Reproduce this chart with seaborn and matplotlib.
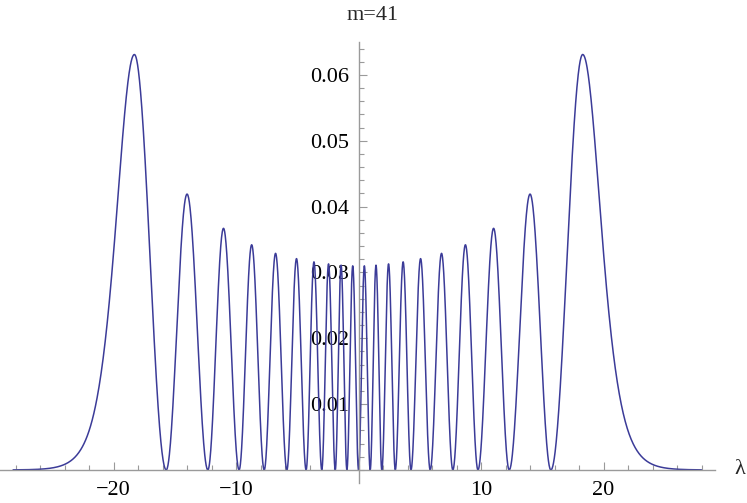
import numpy as np
import pandas as pd
import matplotlib
matplotlib.use("Agg")
import matplotlib.pyplot as plt
import seaborn as sns
from matplotlib.ticker import MultipleLocator, FixedLocator

# zeros of the density (lambda units)
zeros = [-15.7, -12.3, -9.75, -7.7, -5.85, -4.28, -3.0, -1.9, -0.95, 0.0,
         0.95, 1.9, 3.0, 4.28, 5.85, 7.7, 9.75, 12.3, 15.7]
# peak height of each lobe between two neighbouring zeros
inner_heights = [0.0419, 0.0367, 0.0342, 0.0329, 0.0321, 0.0316, 0.0313, 0.0311, 0.0310,
                 0.0310, 0.0311, 0.0313, 0.0316, 0.0321, 0.0329, 0.0342, 0.0367, 0.0419]
# the two big outer lobes
outer_peaks = [-18.3, 18.3]
outer_heights = [0.0631, 0.0631]
outer_tail = 2.0
x_range = (-28.2, 28.0)

# build the curve lobe by lobe
parts = []
for a, b, h in zip(zeros[:-1], zeros[1:], inner_heights):
    x = np.linspace(a, b, 120)
    parts.append(pd.DataFrame({"lam": x, "rho": h * np.sin(np.pi * (x - a) / (b - a)) ** 2}))

for p, h, z in zip(outer_peaks, outer_heights, [zeros[0], zeros[-1]]):
    s = np.sign(p)
    xo = np.linspace(p, x_range[1] if s > 0 else x_range[0], 300)
    yo = h / np.cosh((xo - p) / outer_tail) ** 2
    xi = np.linspace(z, p, 150)
    yi = h * np.sin(0.5 * np.pi * (xi - z) / (p - z)) ** 2
    xs = np.concatenate([xi, xo])
    ys = np.concatenate([yi, yo])
    order = np.argsort(xs)
    parts.append(pd.DataFrame({"lam": xs[order], "rho": ys[order]}))

df = pd.concat(sorted(parts, key=lambda d: d["lam"].iloc[0]), ignore_index=True)

sns.set_style("white")
plt.rcParams["font.family"] = ["Liberation Serif", "DejaVu Serif"]

fig = plt.figure(figsize=(7.47, 5.03), dpi=100)
ax = fig.add_axes([0.0, 0.0398, 715 / 747, 0.9165 - 0.0398])

sns.lineplot(data=df, x="lam", y="rho", ax=ax, sort=False, estimator=None,
             color="#3b3b98", linewidth=1.1)

ax.set_xlim(-29.27, 29.1)
ax.set_ylim(-0.00198, 0.0650)

axis_col = "#9a9a9a"
for side in ["top", "right"]:
    ax.spines[side].set_visible(False)
ax.spines["left"].set_position(("data", 0))
ax.spines["bottom"].set_position(("data", 0))
for side in ["left", "bottom"]:
    ax.spines[side].set_color(axis_col)
    ax.spines[side].set_linewidth(1.0)

ax.xaxis.set_major_locator(FixedLocator([-20, -10, 10, 20]))
ax.xaxis.set_minor_locator(MultipleLocator(2))
ax.yaxis.set_major_locator(FixedLocator([0.01, 0.02, 0.03, 0.04, 0.05, 0.06]))
ax.yaxis.set_minor_locator(MultipleLocator(0.002))
ax.set_xticklabels(["\u221220", "\u221210", "10", "20"])
ax.set_yticklabels(["0.01", "0.02", "0.03", "0.04", "0.05", "0.06"])

ax.tick_params(which="both", direction="in", bottom=True, left=True,
               color=axis_col, labelsize=16, labelcolor="black")
ax.tick_params(which="major", length=6, width=0.8)
ax.tick_params(which="minor", length=3.5, width=0.8)
ax.tick_params(axis="x", pad=8)
ax.tick_params(axis="y", pad=7)

ax.set_xlabel("")
ax.set_ylabel("")
fig.text(740 / 747, 1 - 470 / 503, "\u03bb", ha="center", va="center", fontsize=16)
fig.text(373 / 747, 1 - 15 / 503, "m=41", ha="center", va="center", fontsize=16)

fig.savefig("out.png", dpi=100)
